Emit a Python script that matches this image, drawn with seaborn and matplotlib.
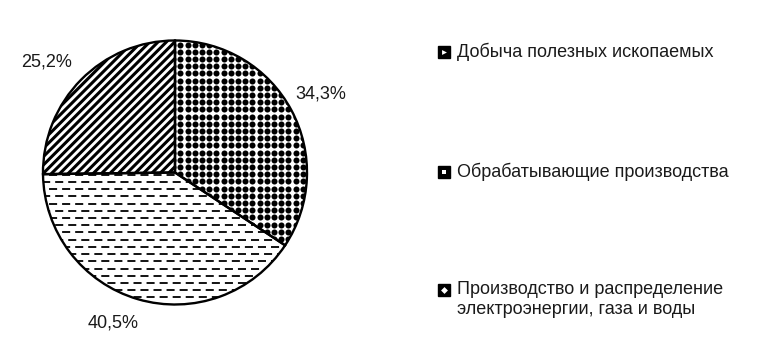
import numpy as np
import matplotlib
matplotlib.use("Agg")
import matplotlib.pyplot as plt
import seaborn as sns
from matplotlib.patches import Rectangle, Wedge
from matplotlib.lines import Line2D

# ---- data ----
categories = [
    "Добыча полезных ископаемых",
    "Обрабатывающие производства",
    "Производство и распределение\nэлектроэнергии, газа и воды",
]
shares = [34.3, 40.5, 25.2]
pct_labels = [f"{v:.1f}%".replace(".", ",") for v in shares]

# ---- style ----
sns.set_theme(style="white")
plt.rcParams['font.family'] = ['Liberation Sans', 'DejaVu Sans']
plt.rcParams['lines.scale_dashes'] = False
plt.rcParams['hatch.linewidth'] = 2.2
TXT = '#1a1a1a'

W, H = 761, 351
fig = plt.figure(figsize=(W / 100, H / 100), dpi=100)
ax = fig.add_axes([0, 0, 350 / W, 1])
R = 132.0          # pie radius in pixels
cy_top = 172.5     # pie centre distance from top, pixels

wedges, texts = ax.pie(
    shares, labels=pct_labels, startangle=90, counterclock=False, radius=1,
    labeldistance=1.24,
    wedgeprops=dict(edgecolor='none', facecolor='white', linewidth=0),
    textprops=dict(fontsize=13, color=TXT),
)

# label placement tweaks (distance, angular shift)
label_dist = [1.25, 1.23, 1.28]
label_shift = [0, -6, 4]
for t, w, d, s in zip(texts, wedges, label_dist, label_shift):
    a = np.deg2rad((w.theta1 + w.theta2) / 2 + s)
    t.set_position((d * np.cos(a), d * np.sin(a)))
    t.set_ha('center')
    t.set_va('center')

# texture 1: dots
p = 7.2 / R
g = np.arange(-1.05, 1.05, p)
gx, gy = np.meshgrid(g, g)
sc = ax.scatter(gx.ravel(), gy.ravel(), s=19, color='black', linewidths=0, zorder=1.5)
sc.set_clip_path(wedges[0])

# texture 2: dashed horizontal lines
rows = np.arange(-1.0, 1.0, 7.2 / R)
for i, yv in enumerate(rows):
    off = 0 if i % 2 == 0 else 5.0
    ln, = ax.plot([-1.05, 1.05], [yv, yv], color='black', lw=1.3,
                  linestyle=(off, (5.8, 3.6)), zorder=1.5)
    ln.set_clip_path(wedges[1])

# texture 3: diagonal hatch
wedges[2].set_hatch('////')
wedges[2].set_edgecolor('black')
wedges[2].set_linewidth(0)

# outlines on top
for w in wedges:
    ax.add_patch(Wedge(w.center, w.r, w.theta1, w.theta2, fill=False,
                       edgecolor='black', linewidth=1.7, zorder=3))

ax.set_xlim(-175 / R, 175 / R)
ax.set_ylim(-(H - cy_top) / R, cy_top / R)
ax.set_aspect('auto')
ax.axis('off')

# ---- legend (manual, first line aligned with marker) ----
leg_x = 438           # marker left, px
leg_text_x = 457      # text left, px
leg_rows = [52, 172, 290]   # centre of first text line, px from top
inner_markers = ['>', 's', 'D']
for cat, yc, mk in zip(categories, leg_rows, inner_markers):
    fig.patches.append(Rectangle((leg_x / W, 1 - (yc + 6) / H), 12 / W, 12 / H,
                                 transform=fig.transFigure, facecolor='black',
                                 edgecolor='black', figure=fig))
    fig.add_artist(Line2D([(leg_x + 6) / W], [1 - yc / H], marker=mk, markersize=3.5,
                          color='white', markeredgewidth=0, transform=fig.transFigure))
    fig.text(leg_text_x / W, 1 - (yc - 9) / H, cat, fontsize=13, color=TXT,
             ha='left', va='top', linespacing=1.22)

fig.savefig('out.png', dpi=100)
